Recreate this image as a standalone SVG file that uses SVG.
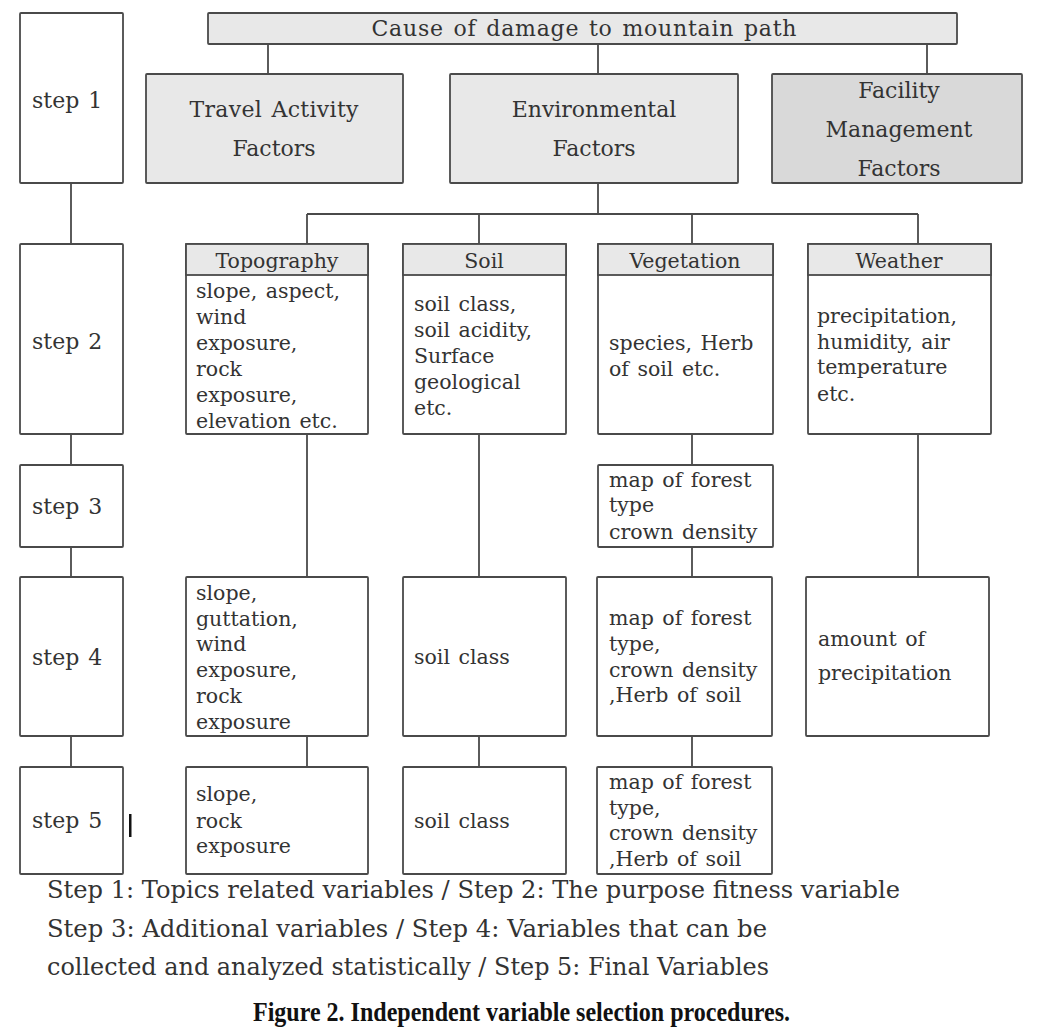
<svg xmlns="http://www.w3.org/2000/svg" width="1046" height="1030" viewBox="0 0 1046 1030">
<style>
.box{fill:#ffffff;stroke:#4a4a4a;stroke-width:1.8}
.hdr{fill:#e8e8e8;stroke:#4a4a4a;stroke-width:1.8}
.fac{fill:#d9d9d9;stroke:#4a4a4a;stroke-width:1.8}
.t{font-family:"DejaVu Serif","Liberation Serif",serif;fill:#333333;font-size:20.5px;word-spacing:2px}
.big{font-size:22px}
.c{text-anchor:middle}
.lg{font-family:"DejaVu Serif","Liberation Serif",serif;fill:#333333;font-size:23.5px}
.cap{font-family:"Liberation Serif",serif;font-weight:bold;font-size:27px;fill:#111111}
#connectors line{stroke:#4a4a4a;stroke-width:1.8}
</style>
<rect width="1046" height="1030" fill="#ffffff"/>

<g id="connectors">
<line x1="268" y1="44" x2="268" y2="74"/>
<line x1="598" y1="44" x2="598" y2="74"/>
<line x1="927" y1="44" x2="927" y2="74"/>
<line x1="598" y1="183" x2="598" y2="214"/>
<line x1="307" y1="214" x2="918" y2="214"/>
<line x1="307" y1="214" x2="307" y2="244"/>
<line x1="479" y1="214" x2="479" y2="244"/>
<line x1="692" y1="214" x2="692" y2="244"/>
<line x1="918" y1="214" x2="918" y2="244"/>
<line x1="71" y1="183" x2="71" y2="244"/>
<line x1="71" y1="434" x2="71" y2="465"/>
<line x1="71" y1="547" x2="71" y2="577"/>
<line x1="71" y1="736" x2="71" y2="767"/>
<line x1="307" y1="434" x2="307" y2="577"/>
<line x1="307" y1="736" x2="307" y2="767"/>
<line x1="479" y1="434" x2="479" y2="577"/>
<line x1="479" y1="736" x2="479" y2="767"/>
<line x1="692" y1="434" x2="692" y2="465"/>
<line x1="692" y1="547" x2="692" y2="577"/>
<line x1="692" y1="736" x2="692" y2="767"/>
<line x1="918" y1="434" x2="918" y2="577"/>
</g>

<g id="cause">
<rect class="hdr" x="208" y="13" width="749" height="31" rx="1"/>
<text class="t big c" x="584" y="36" textLength="425" lengthAdjust="spacing">Cause of damage to mountain path</text>
</g>

<g id="step1">
<rect class="box" x="20" y="13" width="103" height="170" rx="1"/>
<text class="t big" x="32" y="108">step 1</text>
</g>
<g id="step2">
<rect class="box" x="20" y="244" width="103" height="190" rx="1"/>
<text class="t big" x="32" y="349">step 2</text>
</g>
<g id="step3">
<rect class="box" x="20" y="465" width="103" height="82" rx="1"/>
<text class="t big" x="32" y="514">step 3</text>
</g>
<g id="step4">
<rect class="box" x="20" y="577" width="103" height="159" rx="1"/>
<text class="t big" x="32" y="665">step 4</text>
</g>
<g id="step5">
<rect class="box" x="20" y="767" width="103" height="107" rx="1"/>
<text class="t big" x="32" y="828">step 5</text>
</g>
<rect x="129" y="814" width="2.5" height="23" fill="#111111"/>

<g id="travel">
<rect class="hdr" x="146" y="74" width="257" height="109" rx="1"/>
<text class="t big c" x="274" y="117" textLength="169" lengthAdjust="spacing">Travel Activity</text>
<text class="t big c" x="274" y="156">Factors</text>
</g>
<g id="environmental">
<rect class="hdr" x="450" y="74" width="288" height="109" rx="1"/>
<text class="t big c" x="594" y="117">Environmental</text>
<text class="t big c" x="594" y="156">Factors</text>
</g>
<g id="facility">
<rect class="fac" x="772" y="74" width="250" height="109" rx="1"/>
<text class="t big c" x="899" y="98">Facility</text>
<text class="t big c" x="899" y="137">Management</text>
<text class="t big c" x="899" y="176">Factors</text>
</g>

<g id="topography">
<rect class="box" x="186" y="244" width="182" height="190" rx="1"/>
<rect class="hdr" x="186" y="244" width="182" height="31"/>
<text class="t c" x="277" y="268">Topography</text>
<text class="t" x="196" y="298">slope, aspect,</text>
<text class="t" x="196" y="324">wind</text>
<text class="t" x="196" y="350">exposure,</text>
<text class="t" x="196" y="376">rock</text>
<text class="t" x="196" y="402">exposure,</text>
<text class="t" x="196" y="428">elevation etc.</text>
</g>
<g id="soil">
<rect class="box" x="403" y="244" width="163" height="190" rx="1"/>
<rect class="hdr" x="403" y="244" width="163" height="31"/>
<text class="t c" x="484" y="268">Soil</text>
<text class="t" x="414" y="311">soil class,</text>
<text class="t" x="414" y="337">soil acidity,</text>
<text class="t" x="414" y="363">Surface</text>
<text class="t" x="414" y="389">geological</text>
<text class="t" x="414" y="415">etc.</text>
</g>
<g id="vegetation">
<rect class="box" x="598" y="244" width="175" height="190" rx="1"/>
<rect class="hdr" x="598" y="244" width="175" height="31"/>
<text class="t c" x="685" y="268">Vegetation</text>
<text class="t" x="609" y="350">species, Herb</text>
<text class="t" x="609" y="376">of soil etc.</text>
</g>
<g id="weather">
<rect class="box" x="808" y="244" width="183" height="190" rx="1"/>
<rect class="hdr" x="808" y="244" width="183" height="31"/>
<text class="t c" x="899" y="268">Weather</text>
<text class="t" x="817" y="323">precipitation,</text>
<text class="t" x="817" y="349">humidity, air</text>
<text class="t" x="817" y="374">temperature</text>
<text class="t" x="817" y="401">etc.</text>
</g>

<g id="vegetation-step3">
<rect class="box" x="598" y="465" width="175" height="82" rx="1"/>
<text class="t" x="609" y="487">map of forest</text>
<text class="t" x="609" y="512">type</text>
<text class="t" x="609" y="539">crown density</text>
</g>

<g id="topography-step4">
<rect class="box" x="186" y="577" width="182" height="159" rx="1"/>
<text class="t" x="196" y="600">slope,</text>
<text class="t" x="196" y="626">guttation,</text>
<text class="t" x="196" y="651">wind</text>
<text class="t" x="196" y="677">exposure,</text>
<text class="t" x="196" y="703">rock</text>
<text class="t" x="196" y="729">exposure</text>
</g>
<g id="soil-step4">
<rect class="box" x="403" y="577" width="163" height="159" rx="1"/>
<text class="t" x="414" y="664">soil class</text>
</g>
<g id="vegetation-step4">
<rect class="box" x="597" y="577" width="175" height="159" rx="1"/>
<text class="t" x="609" y="625">map of forest</text>
<text class="t" x="609" y="651">type,</text>
<text class="t" x="609" y="677">crown density</text>
<text class="t" x="609" y="702">,Herb of soil</text>
</g>
<g id="weather-step4">
<rect class="box" x="806" y="577" width="183" height="159" rx="1"/>
<text class="t" x="818" y="646">amount of</text>
<text class="t" x="818" y="680">precipitation</text>
</g>

<g id="topography-step5">
<rect class="box" x="186" y="767" width="182" height="107" rx="1"/>
<text class="t" x="196" y="801">slope,</text>
<text class="t" x="196" y="828">rock</text>
<text class="t" x="196" y="853">exposure</text>
</g>
<g id="soil-step5">
<rect class="box" x="403" y="767" width="163" height="107" rx="1"/>
<text class="t" x="414" y="828">soil class</text>
</g>
<g id="vegetation-step5">
<rect class="box" x="597" y="767" width="175" height="107" rx="1"/>
<text class="t" x="609" y="789">map of forest</text>
<text class="t" x="609" y="815">type,</text>
<text class="t" x="609" y="840">crown density</text>
<text class="t" x="609" y="866">,Herb of soil</text>
</g>

<g id="legend">
<text class="lg" x="47" y="898" textLength="853" lengthAdjust="spacingAndGlyphs">Step 1: Topics related variables / Step 2: The purpose fitness variable</text>
<text class="lg" x="47" y="937" textLength="720" lengthAdjust="spacingAndGlyphs">Step 3: Additional variables / Step 4: Variables that can be</text>
<text class="lg" x="47" y="975" textLength="722" lengthAdjust="spacingAndGlyphs">collected and analyzed statistically / Step 5: Final Variables</text>
<text class="cap" x="253" y="1021" textLength="537" lengthAdjust="spacingAndGlyphs">Figure 2. Independent variable selection procedures.</text>
</g>
</svg>
